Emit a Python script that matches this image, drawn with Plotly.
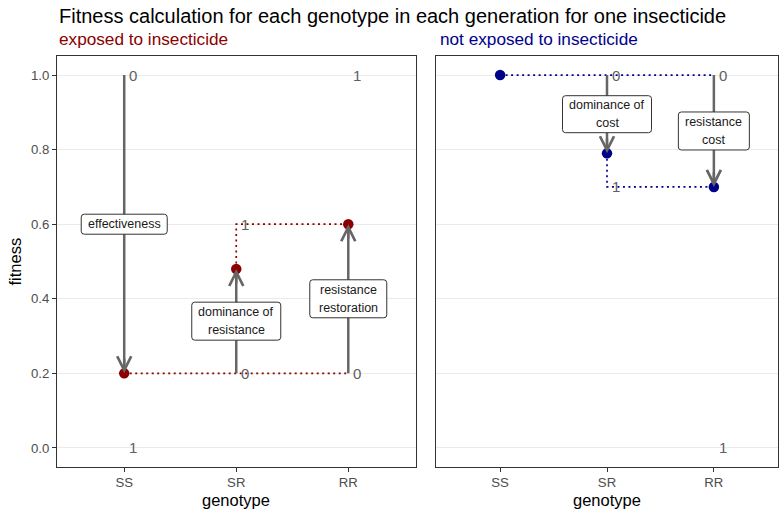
import plotly.graph_objects as go

# ---------------- data ----------------
genotypes = ["SS", "SR", "RR"]

# exposed to insecticide
exp_fitness = [0.2, 0.48, 0.6]
exp_zero = [1.0, 0.2, 0.2]      # fitness level where the parameter equals 0
exp_one = [0.0, 0.6, 1.0]       # fitness level where the parameter equals 1
exp_params = ["effectiveness", "dominance of\nresistance", "resistance\nrestoration"]

# not exposed to insecticide
ne_fitness = [1.0, 0.79, 0.7]
ne_zero = [None, 1.0, 1.0]
ne_one = [None, 0.7, 0.0]
ne_params = [None, "dominance of\ncost", "resistance\ncost"]

y_ticks = [0.0, 0.2, 0.4, 0.6, 0.8, 1.0]

title_text = "Fitness calculation for each genotype in each generation for one insecticide"
panel_titles = ["exposed to insecticide", "not exposed to insecticide"]

# ---------------- styles ----------------
W, H = 784, 517
FONT = "Liberation Sans, Arial, sans-serif"
RED = "#8B0000"
BLUE = "#00008B"
ARROW = "#666666"
NUMCOL = "#606060"
LINE_GAP = 18  # px between label lines
left_dom = [57 / W, 415.5 / W]
right_dom = [436 / W, 778 / W]
y_dom = [(H - 466.6) / H, (H - 56.4) / H]

box_sizes = {  # (width, height) in px for each label box
    ("x", 0): (86, 20), ("x", 1): (89, 38), ("x", 2): (77, 38),
    ("x2", 1): (89, 37), ("x2", 2): (71, 38),
}

fig = go.Figure()
annotations = []
shapes = []


def rounded_rect(w, h, r=3):
    a, b = w / 2, h / 2
    return (f"M{-a + r},{-b} L{a - r},{-b} Q{a},{-b} {a},{-b + r} "
            f"L{a},{b - r} Q{a},{b} {a - r},{b} L{-a + r},{b} "
            f"Q{-a},{b} {-a},{b - r} L{-a},{-b + r} Q{-a},{-b} {-a + r},{-b} Z")


def add_panel(xa, ya, fit, zero, one, params, color):
    idx = list(range(len(genotypes)))
    dot = dict(color=color, width=1.7, dash="2px,3.5px")
    # dotted reference paths
    fig.add_trace(go.Scatter(
        x=[idx[0], idx[1], idx[2]], y=[fit[0], zero[1], zero[2]],
        mode="lines", line=dot, xaxis=xa, yaxis=ya, hoverinfo="skip"))
    fig.add_trace(go.Scatter(
        x=[idx[1], idx[1], idx[2]], y=[fit[1], one[1], fit[2]],
        mode="lines", line=dot, xaxis=xa, yaxis=ya, hoverinfo="skip"))
    # arrow shafts
    for i in idx:
        if zero[i] is None:
            continue
        fig.add_trace(go.Scatter(
            x=[i, i], y=[zero[i], fit[i]], mode="lines",
            line=dict(color=ARROW, width=2.5), xaxis=xa, yaxis=ya, hoverinfo="skip"))
    # points
    fig.add_trace(go.Scatter(
        x=idx, y=fit, mode="markers", marker=dict(color=color, size=10.5),
        xaxis=xa, yaxis=ya, hoverinfo="skip"))
    for i in idx:
        if zero[i] is None:
            continue
        # arrow head
        down = zero[i] > fit[i]
        annotations.append(dict(
            x=i, y=fit[i], xref=xa, yref=ya, text="", showarrow=True,
            ax=0, ay=(-16 if down else 16), arrowhead=5, arrowsize=1.1,
            arrowwidth=2.5, arrowcolor=ARROW, standoff=0))
        # 0 / 1 labels
        for val, lab in ((zero[i], "0"), (one[i], "1")):
            annotations.append(dict(
                x=i, y=val, xref=xa, yref=ya, text=lab, showarrow=False,
                xanchor="left", yanchor="middle", xshift=3,
                font=dict(family=FONT, size=15, color=NUMCOL)))
        # parameter label box
        ym = (zero[i] + fit[i]) / 2
        w, h = box_sizes[(xa, i)]
        shapes.append(dict(
            type="path", xref=xa, yref=ya, xsizemode="pixel", ysizemode="pixel",
            xanchor=i, yanchor=ym, path=rounded_rect(w, h),
            fillcolor="white", line=dict(color="#333333", width=1), layer="above"))
        lines = params[i].split("\n")
        n = len(lines)
        for k, ln in enumerate(lines):
            annotations.append(dict(
                x=i, y=ym, xref=xa, yref=ya, text=ln, showarrow=False,
                xanchor="center", yanchor="middle",
                yshift=((n - 1) / 2 - k) * LINE_GAP,
                font=dict(family=FONT, size=12.5, color="#1A1A1A")))


add_panel("x", "y", exp_fitness, exp_zero, exp_one, exp_params, RED)
add_panel("x2", "y2", ne_fitness, ne_zero, ne_one, ne_params, BLUE)

# titles
annotations.append(dict(x=0.5, y=(H - 16) / H, xref="paper", yref="paper",
                        text=title_text, showarrow=False, xanchor="center", yanchor="middle",
                        font=dict(family=FONT, size=20, color="black")))
annotations.append(dict(x=left_dom[0], y=(H - 39) / H, xref="paper", yref="paper",
                        text=panel_titles[0], showarrow=False, xanchor="left", yanchor="middle",
                        font=dict(family=FONT, size=17.2, color=RED)))
annotations.append(dict(x=right_dom[0] + 2 / W, y=(H - 39) / H, xref="paper", yref="paper",
                        text=panel_titles[1], showarrow=False, xanchor="left", yanchor="middle",
                        font=dict(family=FONT, size=17.2, color=BLUE)))
for xa in ("x", "x2"):
    annotations.append(dict(x=0.5, y=(H - 500) / H, xref=f"{xa} domain", yref="paper",
                            text="genotype", showarrow=False, xanchor="center", yanchor="middle",
                            font=dict(family=FONT, size=16.5, color="black")))
annotations.append(dict(x=14 / W, y=0.5, xref="paper", yref="y domain", text="fitness",
                        textangle=-90, showarrow=False, xanchor="center", yanchor="middle",
                        font=dict(family=FONT, size=16.5, color="black")))

common_x = dict(range=[-0.6, 2.6], tickvals=[0, 1, 2], ticktext=genotypes,
                showgrid=False, zeroline=False, ticks="outside", ticklen=4,
                tickwidth=1, tickcolor="#333333", showline=True, mirror=True,
                linecolor="#333333", linewidth=1, automargin=False, fixedrange=True,
                tickfont=dict(family=FONT, size=13.2, color="#4D4D4D"))
common_y = dict(range=[-0.05, 1.05], tickvals=y_ticks, tickformat=".1f",
                showgrid=True, gridcolor="#EBEBEB", gridwidth=1, zeroline=False,
                showline=True, mirror=True, linecolor="#333333", linewidth=1,
                automargin=False, fixedrange=True,
                tickfont=dict(family=FONT, size=13.2, color="#4D4D4D"))

fig.update_layout(
    width=W, height=H, margin=dict(l=0, r=0, t=0, b=0),
    paper_bgcolor="white", plot_bgcolor="white", showlegend=False,
    xaxis=dict(domain=left_dom, anchor="y", **common_x),
    yaxis=dict(domain=y_dom, anchor="x", ticks="outside", ticklen=4, tickwidth=1,
               tickcolor="#333333", **common_y),
    xaxis2=dict(domain=right_dom, anchor="y2", **common_x),
    yaxis2=dict(domain=y_dom, anchor="x2", ticks="", showticklabels=False, **common_y),
    annotations=annotations, shapes=shapes,
)

fig.write_html("out.html", config={"displayModeBar": False},
               post_script="document.body.style.margin='0';document.body.style.overflow='hidden';")
